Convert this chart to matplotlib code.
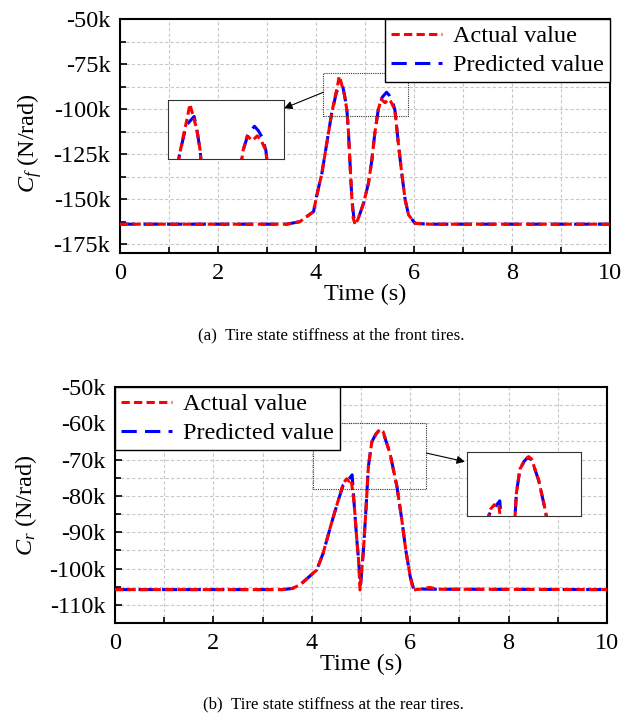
import matplotlib
matplotlib.use("Agg")
import matplotlib.pyplot as plt
from matplotlib.patches import Rectangle
from matplotlib.ticker import FuncFormatter, MultipleLocator

plt.rcParams["font.family"] = ["Liberation Serif", "DejaVu Serif"]
plt.rcParams["mathtext.fontset"] = "custom"
plt.rcParams["mathtext.rm"] = "Liberation Serif"
plt.rcParams["mathtext.it"] = "Liberation Serif:italic"

# front tyre stiffness (kN/rad -> *1000)
t_front_act = [0, 3.4, 3.67, 3.95, 4.01, 4.12, 4.22, 4.32, 4.39, 4.44, 4.476, 4.52, 4.58,
               4.63, 4.66, 4.69, 4.73, 4.76, 4.80, 4.86, 4.97, 5.07, 5.14, 5.2, 5.27, 5.33,
               5.41, 5.48, 5.53, 5.61, 5.68, 5.75, 5.82, 5.89, 6.02, 6.3, 10]
cf_act = [-164, -164, -162.6, -157, -148.7, -135.7, -119, -102.4, -93.2, -87, -81.7, -86, -92,
          -100.5, -111.7, -128, -148.7, -160.7, -164.4, -161, -152.4, -141.3, -128.3, -113.5,
          -100.5, -94.6, -96.5, -94.6, -96, -100.5, -119, -135.7, -150.5, -158.9, -163.5, -164, -164]
t_front_pred = [0, 3.4, 3.67, 3.95, 4.01, 4.12, 4.22, 4.32, 4.42, 4.48, 4.54, 4.58, 4.63, 4.66,
                4.69, 4.73, 4.77, 4.82, 4.88, 4.97, 5.07, 5.14, 5.2, 5.27, 5.35, 5.44, 5.5, 5.55,
                5.61, 5.68, 5.75, 5.82, 5.89, 6.02, 6.3, 10]
cf_pred = [-164, -164, -162.6, -157, -148.7, -135.7, -119, -102.4, -90.4, -88.5, -86.7, -92,
           -100.5, -111.7, -128, -148.7, -160, -162, -159.5, -152.4, -141.3, -128.3, -113.5,
           -100.5, -93.5, -90.7, -92.6, -95, -100.5, -119, -135.7, -150.5, -158.9, -163.5, -164, -164]

# rear tyre stiffness
t_rear_act = [0, 3.4, 3.6, 3.76, 4.10, 4.23, 4.40, 4.54, 4.64, 4.71, 4.76, 4.80, 4.86, 4.91,
              4.95, 4.98, 5.05, 5.10, 5.15, 5.22, 5.32, 5.39, 5.45, 5.59, 5.73, 5.83, 5.91,
              6.0, 6.06, 6.25, 6.4, 6.55, 10]
cr_act = [-105.8, -105.8, -105.5, -104.5, -100.4, -95.8, -87.5, -81.1, -76.5, -75.3, -76, -75.5,
          -82, -91.2, -97.6, -105.9, -94.9, -83.9, -71.9, -65.1, -62.7, -61.6, -62.3, -68.3,
          -77.4, -86.6, -94.9, -102.2, -105.9, -105.6, -105.2, -105.7, -105.8]
t_rear_pred = [0, 3.4, 3.6, 3.76, 4.10, 4.23, 4.40, 4.54, 4.64, 4.72, 4.82, 4.86, 4.91, 4.95,
               4.99, 5.05, 5.10, 5.15, 5.22, 5.30, 5.37, 5.45, 5.59, 5.73, 5.83, 5.91, 6.0,
               6.07, 6.4, 10]
cr_pred = [-105.8, -105.8, -105.5, -104.5, -100.4, -95.8, -87.5, -81.1, -77, -76, -74.2, -82,
           -91.2, -97.6, -104.8, -94.9, -83.9, -71.9, -65.1, -63, -61.9, -62.5, -68.3, -77.4,
           -86.6, -94.9, -102.2, -105.6, -105.7, -105.8]

labels = ["Actual value", "Predicted value"]

RED = "#ff0000"
BLUE = "#0000ff"
LW = 2.2
RED_DASH = (2.7, 1.4)
BLUE_DASH = (5, 2.7)
FS = 17.5


def draw_lines(ax, t_act, y_act, t_pred, y_pred):
    hp, = ax.plot(t_pred, [v * 1000 for v in y_pred], color=BLUE, lw=LW, dashes=BLUE_DASH,
                  label=labels[1], zorder=3)
    ha, = ax.plot(t_act, [v * 1000 for v in y_act], color=RED, lw=LW, dashes=RED_DASH,
                  label=labels[0], zorder=4)
    return [ha, hp]


def style_axes(ax, ylim, major, minor):
    ax.set_xlim(0, 10)
    ax.set_ylim(ylim[0] * 1000, ylim[1] * 1000)
    ax.xaxis.set_major_locator(MultipleLocator(2))
    ax.xaxis.set_minor_locator(MultipleLocator(1))
    ax.yaxis.set_major_locator(MultipleLocator(major * 1000))
    ax.yaxis.set_minor_locator(MultipleLocator(minor * 1000))
    ax.yaxis.set_major_formatter(FuncFormatter(lambda v, p: f"{v / 1000:.0f}k"))
    ax.tick_params(which="both", direction="in", labelsize=FS, top=False, right=False)
    ax.tick_params(which="major", length=5, width=1.2, pad=7)
    ax.tick_params(which="minor", length=4, width=1.2)
    ax.grid(which="both", color="#c8c8c8", lw=0.8, dashes=(3, 2))
    for s in ax.spines.values():
        s.set_linewidth(1.5)
    ax.set_xlabel("Time (s)", fontsize=FS, labelpad=0)


def add_legend(ax, handles, loc):
    leg = ax.legend(handles, labels, loc=loc, fontsize=FS, frameon=True, fancybox=False,
                    edgecolor="black", framealpha=1, borderaxespad=0, borderpad=0.25,
                    labelspacing=0.3, handlelength=2.1, handletextpad=0.45)
    leg.get_frame().set_linewidth(1.0)
    leg.set_zorder(10)


def add_inset(fig, ax, rect, pos, inset_lims, arrow_from, arrow_to, data):
    x0, x1, y0, y1 = rect
    ax.add_patch(Rectangle((x0, y0 * 1000), x1 - x0, (y1 - y0) * 1000, fill=False,
                           ec="#333333", lw=0.8, ls=(0, (1, 1)), zorder=5))
    ins = fig.add_axes(pos)
    draw_lines(ins, *data)
    ins.set_xlim(inset_lims[0], inset_lims[1])
    ins.set_ylim(inset_lims[2] * 1000, inset_lims[3] * 1000)
    ins.set_xticks([])
    ins.set_yticks([])
    for s in ins.spines.values():
        s.set_linestyle((0, (1, 1)))
        s.set_linewidth(0.8)
        s.set_edgecolor("#333333")
    ax.annotate("", xy=arrow_to, xycoords="figure fraction",
                xytext=(arrow_from[0], arrow_from[1] * 1000), textcoords="data",
                arrowprops=dict(arrowstyle="-|>", color="black", lw=0.8,
                                mutation_scale=12, shrinkA=0, shrinkB=0), zorder=6)


fig = plt.figure(figsize=(6.34, 7.15), dpi=100)
W, H = 634, 715

# (a) front
ax1 = fig.add_axes([120 / W, 1 - 253 / H, 490 / W, 234 / H])
h1 = draw_lines(ax1, t_front_act, cf_act, t_front_pred, cf_pred)
style_axes(ax1, (-180, -50), 25, 12.5)
ax1.set_ylabel(r"$C_f$ (N/rad)", fontsize=FS)
ax1.yaxis.set_label_coords(-0.155, 0.47)
add_legend(ax1, h1, "upper right")
add_inset(fig, ax1, (4.15, 5.88, -104, -80),
          [168 / W, 1 - 159 / H, 116 / W, 59 / H], (4.15, 5.88, -104, -80),
          (4.15, -90.7), (284 / W, 1 - 108.3 / H),
          (t_front_act, cf_act, t_front_pred, cf_pred))
fig.text(331 / W, 1 - 335 / H, "(a)  Tire state stiffness at the front tires.",
         ha="center", va="center", fontsize=12.2)

# (b) rear
ax2 = fig.add_axes([115 / W, 1 - 623 / H, 492 / W, 236 / H])
h2 = draw_lines(ax2, t_rear_act, cr_act, t_rear_pred, cr_pred)
style_axes(ax2, (-115, -50), 10, 5)
ax2.set_ylabel(r"$C_r$ (N/rad)", fontsize=FS)
ax2.yaxis.set_label_coords(-0.155, 0.5)
add_legend(ax2, h2, "upper left")
add_inset(fig, ax2, (4.02, 6.33, -78, -60),
          [467 / W, 1 - 516 / H, 114 / W, 64 / H], (4.17, 6.43, -78.5, -60.3),
          (6.33, -68.2), (465 / W, 1 - 461.7 / H),
          (t_rear_act, cr_act, t_rear_pred, cr_pred))
fig.text(333 / W, 1 - 704 / H, "(b)  Tire state stiffness at the rear tires.",
         ha="center", va="center", fontsize=12.2)

fig.savefig("out.png", dpi=100)
